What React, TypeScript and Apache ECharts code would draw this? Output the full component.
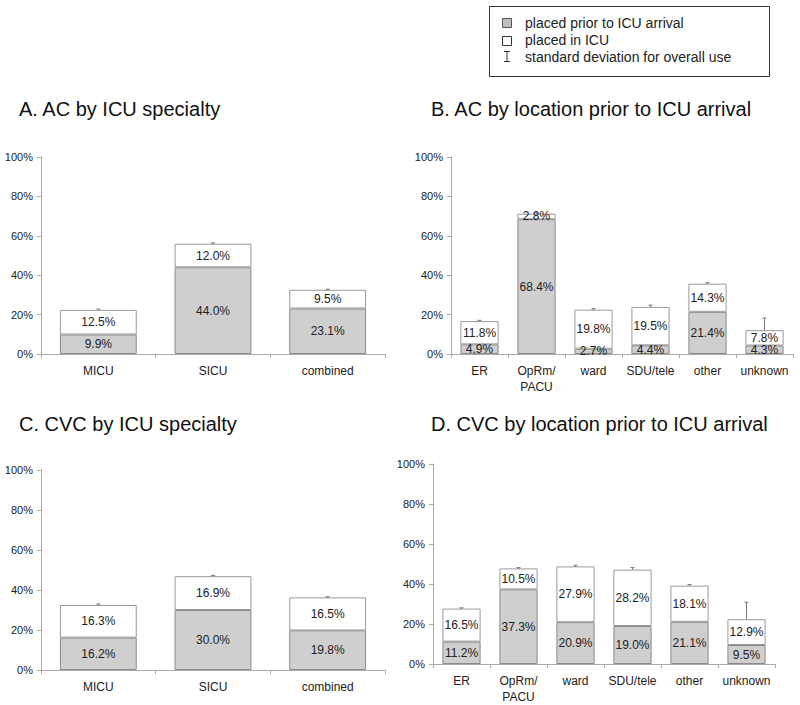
import React, { useEffect, useRef } from "react";
import * as echarts from "echarts";

const specialtyCats = ["MICU", "SICU", "combined"];
const locationCats = ["ER", "OpRm/\nPACU", "ward", "SDU/tele", "other", "unknown"];
const yTicks = [0, 20, 40, 60, 80, 100];

// A. AC by ICU specialty
const aPrior = [9.9, 44.0, 23.1];
const aIcu = [12.5, 12.0, 9.5];
const aSd = [0.4, 0.4, 0.3];
// B. AC by location prior to ICU arrival
const bPrior = [4.9, 68.4, 2.7, 4.4, 21.4, 4.3];
const bIcu = [11.8, 2.8, 19.8, 19.5, 14.3, 7.8];
const bSd = [0.4, 0.5, 0.5, 0.9, 0.5, 6.1];
// C. CVC by ICU specialty
const cPrior = [16.2, 30.0, 19.8];
const cIcu = [16.3, 16.9, 16.5];
const cSd = [0.5, 0.4, 0.3];
// D. CVC by location prior to ICU arrival
const dPrior = [11.2, 37.3, 20.9, 19.0, 21.1, 9.5];
const dIcu = [16.5, 10.5, 27.9, 28.2, 18.1, 12.9];
const dSd = [0.4, 0.4, 0.6, 1.0, 0.5, 8.5];

const titles = [
  "A. AC by ICU specialty",
  "B. AC by location prior to ICU arrival",
  "C. CVC by ICU specialty",
  "D. CVC by location prior to ICU arrival",
];
const legendLabels = [
  "placed prior to ICU arrival",
  "placed in ICU",
  "standard deviation for overall use",
];

const FONT = "'Liberation Sans', Arial, sans-serif";
const GRAY = "#cfcfcf";
const EDGE = "#8a8a8a";
const TXT = "#222";

export default function App() {
  const ref = useRef<HTMLDivElement>(null);
  useEffect(() => {
    if (!ref.current) return;
    const chart = echarts.init(ref.current, null, { renderer: "svg" });

    const panels = [
      { cats: specialtyCats, prior: aPrior, icu: aIcu, sd: aSd, grid: { left: 41, top: 157, width: 344, height: 197 } },
      { cats: locationCats, prior: bPrior, icu: bIcu, sd: bSd, grid: { left: 451, top: 157, width: 342, height: 197 } },
      { cats: specialtyCats, prior: cPrior, icu: cIcu, sd: cSd, grid: { left: 41, top: 470, width: 344, height: 200 } },
      { cats: locationCats, prior: dPrior, icu: dIcu, sd: dSd, grid: { left: 433, top: 464, width: 342, height: 200 } },
    ];

    const grid: any[] = [];
    const xAxis: any[] = [];
    const yAxis: any[] = [];
    const series: any[] = [];
    const labelFmt = (p: any) => p.value.toFixed(1) + "%";

    panels.forEach((p, i) => {
      grid.push({ ...p.grid, containLabel: false });
      xAxis.push({
        type: "category",
        gridIndex: i,
        data: p.cats,
        axisLine: { lineStyle: { color: "#aaa" } },
        axisTick: { show: true, length: 4, lineStyle: { color: "#aaa" } },
        axisLabel: { color: TXT, fontSize: 12, fontFamily: FONT, margin: 9, interval: 0, lineHeight: 16 },
      });
      yAxis.push({
        type: "value",
        gridIndex: i,
        min: 0,
        max: 100,
        interval: 20,
        splitLine: { show: false },
        axisLine: { show: true, lineStyle: { color: "#aaa" } },
        axisTick: { show: true, length: 4, lineStyle: { color: "#aaa" } },
        axisLabel: {
          color: TXT,
          fontSize: 11,
          fontFamily: FONT,
          margin: 8,
          formatter: (v: number) => (yTicks.includes(v) ? v + "%" : ""),
        },
      });
      series.push({
        type: "bar",
        name: legendLabels[0],
        xAxisIndex: i,
        yAxisIndex: i,
        stack: "s" + i,
        barWidth: "67%",
        data: p.prior,
        itemStyle: { color: GRAY, borderColor: EDGE, borderWidth: 1 },
        label: { show: true, position: "inside", color: TXT, fontSize: 12, fontFamily: FONT, formatter: labelFmt },
      });
      series.push({
        type: "bar",
        name: legendLabels[1],
        xAxisIndex: i,
        yAxisIndex: i,
        stack: "s" + i,
        barWidth: "67%",
        data: p.icu,
        itemStyle: { color: "#fff", borderColor: "#999", borderWidth: 1 },
        label: { show: true, position: "inside", color: TXT, fontSize: 12, fontFamily: FONT, formatter: labelFmt },
      });
      series.push({
        type: "custom",
        name: legendLabels[2],
        xAxisIndex: i,
        yAxisIndex: i,
        z: 1,
        data: p.cats.map((_, k) => [k, p.prior[k] + p.icu[k], p.sd[k]]),
        encode: { x: 0, y: 1 },
        renderItem: (params: any, api: any) => {
          const idx = api.value(0);
          const tot = api.value(1);
          const sd = api.value(2);
          const top = api.coord([idx, tot + sd]);
          const bot = api.coord([idx, tot - sd]);
          const style = { stroke: "#777", lineWidth: 1 };
          return {
            type: "group",
            children: [
              { type: "line", shape: { x1: top[0], y1: top[1], x2: bot[0], y2: bot[1] }, style },
              { type: "line", shape: { x1: top[0] - 2, y1: top[1], x2: top[0] + 2, y2: top[1] }, style },
              { type: "line", shape: { x1: bot[0] - 2, y1: bot[1], x2: bot[0] + 2, y2: bot[1] }, style },
            ],
          };
        },
      });
    });

    const titlePos = [
      [19, 99],
      [431, 99],
      [19, 414],
      [431, 414],
    ];
    const graphic: any[] = titles.map((t, i) => ({
      type: "text",
      x: titlePos[i][0],
      y: titlePos[i][1],
      style: { text: t, fill: "#111", font: `20px ${FONT}`, textVerticalAlign: "top" },
    }));

    // legend box
    graphic.push({ type: "rect", shape: { x: 489.5, y: 6.5, width: 280, height: 70 }, style: { fill: "#fff", stroke: "#333", lineWidth: 1 } });
    graphic.push({ type: "rect", shape: { x: 502.5, y: 18.5, width: 9, height: 9 }, style: { fill: "#bdbdbd", stroke: "#555", lineWidth: 1 } });
    graphic.push({ type: "rect", shape: { x: 502.5, y: 36.5, width: 9, height: 9 }, style: { fill: "#fff", stroke: "#333", lineWidth: 1 } });
    graphic.push({ type: "line", shape: { x1: 507, y1: 51.5, x2: 507, y2: 61.5 }, style: { stroke: "#333", lineWidth: 1 } });
    graphic.push({ type: "line", shape: { x1: 504, y1: 51.5, x2: 510, y2: 51.5 }, style: { stroke: "#333", lineWidth: 1 } });
    graphic.push({ type: "line", shape: { x1: 504, y1: 61.5, x2: 510, y2: 61.5 }, style: { stroke: "#333", lineWidth: 1 } });
    legendLabels.forEach((l, i) => {
      graphic.push({
        type: "text",
        x: 525,
        y: 23 + i * 17,
        style: { text: l, fill: TXT, font: `14px ${FONT}`, textVerticalAlign: "middle" },
      });
    });

    chart.setOption({
      animation: false,
      backgroundColor: "#fff",
      grid,
      xAxis,
      yAxis,
      series,
      graphic,
    });
    return () => chart.dispose();
  }, []);
  return <div ref={ref} style={{ position: "absolute", left: 0, top: 0, width: 800, height: 705 }} />;
}
